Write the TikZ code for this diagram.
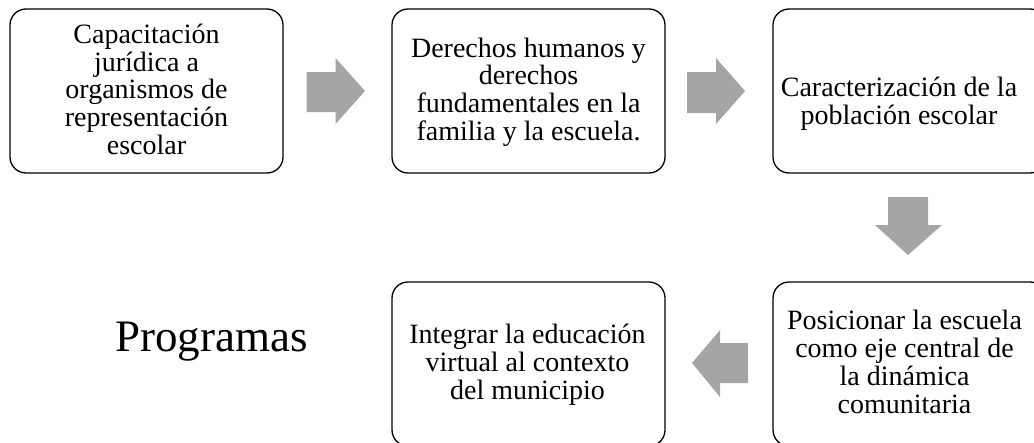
\documentclass[tikz,border=0pt]{standalone}
\usepackage{fontspec}
\setmainfont{Liberation Serif}
\begin{document}
\begin{tikzpicture}[x=1pt,y=-1pt,
  box/.style={draw=black, line width=1.3pt, rounded corners=16pt, minimum width=273pt, minimum height=164pt, inner sep=0pt},
  txt/.style={align=center, anchor=base, inner sep=0pt, font=\fontsize{28}{27.8}\selectfont},
  blockarrow/.style={fill=arrowgray, draw=none}]
\definecolor{arrowgray}{HTML}{A5A5A5}
\useasboundingbox (0,0) rectangle (1034,442);
\clip (0,0) rectangle (1034,442);
% boxes
\node[box] (b1) at (146.5,91) {};
\node[box] (b2) at (528.5,91) {};
\node[box] (b3) at (909.5,91) {};
\node[box] (b4) at (909.5,364) {};
\node[box] (b5) at (528.5,364) {};
% texts (anchor base = baseline of last line)
\node[txt] (t1) at (146.5,154.5) {Capacitación\\jurídica a\\organismos de\\representación\\escolar};
\node[txt] (t2) at (528.5,140.5) {Derechos humanos y\\derechos\\fundamentales en la\\familia y la escuela.};
\node[txt] (t3) at (899,124.5) {Caracterización de la\\población escolar};
\node[txt] (t4) at (904.5,413) {Posicionar la escuela\\como eje central de\\la dinámica\\comunitaria};
\node[txt] (t5) at (527.5,399) {Integrar la educación\\virtual al contexto\\del municipio};
\node[anchor=base, inner sep=0pt, font=\fontsize{45}{45}\selectfont] (prog) at (211.5,351) {Programas};
% block arrows
\fill[blockarrow] (306.5,72) -- (335.5,72) -- (335.5,58) -- (365,91) -- (335.5,124) -- (335.5,112) -- (306.5,112) -- cycle;
\fill[blockarrow] (687,72) -- (716,72) -- (716,58) -- (745,91) -- (716,124) -- (716,113) -- (687,113) -- cycle;
\fill[blockarrow] (888,197) -- (928,197) -- (928,225) -- (942,225) -- (908,255) -- (875,225) -- (888,225) -- cycle;
\fill[blockarrow] (748,343) -- (720,343) -- (720,330) -- (692,363) -- (720,397) -- (720,383) -- (748,383) -- cycle;
\end{tikzpicture}
\end{document}
